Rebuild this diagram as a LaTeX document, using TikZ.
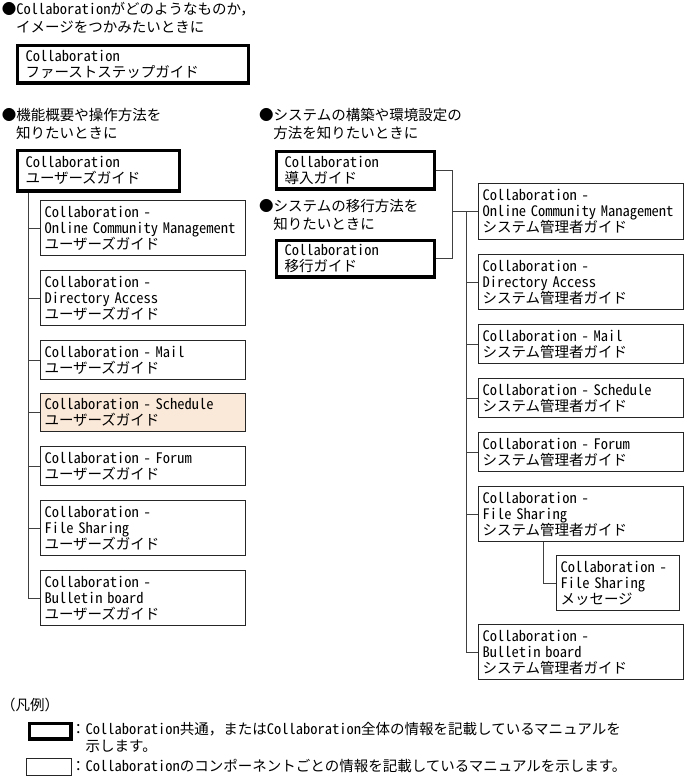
\documentclass[tikz,border=0pt]{standalone}
\usepackage{fontspec}
\setmainfont{Noto Sans CJK JP}
\newfontfamily\enf{Noto Sans CJK JP}[RawFeature=+hwid]
\newcommand\en[1]{{\enf #1}}
\definecolor{hl}{RGB}{250,232,216}
\begin{document}
\begin{tikzpicture}[x=1pt,y=-1pt,
  every node/.style={font=\fontsize{14.5}{16}\selectfont, inner sep=0pt},
  txt/.style={anchor=base west},
  thinbox/.style={draw=black!85, line width=1pt, anchor=north west, align=left, inner xsep=4pt, text width=#1},
  thinbox/.default=197pt,
  thickbox/.style={draw=black, line width=3.5pt, anchor=north west, align=left, inner xsep=8pt},
  conn/.style={draw=black!75, line width=1pt}]
\useasboundingbox (0,0) rectangle (687,784);

% headings
\node[txt] (h1a) at (1.7,15) {●\en{Collaboration}がどのようなものか，};
\node[txt] (h1b) at (16,33) {イメージをつかみたいときに};
\node[txt] (h2a) at (1.7,120) {●機能概要や操作方法を};
\node[txt] (h2b) at (16,138) {知りたいときに};
\node[txt] (h3a) at (259,120) {●システムの構築や環境設定の};
\node[txt] (h3b) at (273.2,138) {方法を知りたいときに};
\node[txt] (h4a) at (259,211) {●システムの移行方法を};
\node[txt] (h4b) at (273.2,229) {知りたいときに};

% thick boxes
\node[thickbox, text width=215pt, minimum height=37.5pt] (fsg) at (15.75,43.75) {\en{Collaboration}\\ファーストステップガイド};
\node[thickbox, text width=146pt, minimum height=40.5pt] (ug) at (15.75,148.75) {\en{Collaboration}\\ユーザーズガイド};
\node[thickbox, text width=142pt, minimum height=37.5pt] (dnyu) at (274.75,149.75) {\en{Collaboration}\\導入ガイド};
\node[thickbox, text width=142pt, minimum height=36.5pt] (iko) at (274.75,238.75) {\en{Collaboration}\\移行ガイド};

% left column
\node[thinbox, minimum height=55pt] (u1) at (40,200) {\en{Collaboration -}\\\en{Online Community Management}\\ユーザーズガイド};
\node[thinbox, minimum height=55pt] (u2) at (40,270) {\en{Collaboration -}\\\en{Directory Access}\\ユーザーズガイド};
\node[thinbox, minimum height=39pt] (u3) at (40,340) {\en{Collaboration - Mail}\\ユーザーズガイド};
\node[thinbox, minimum height=38pt, fill=hl] (u4) at (40,393) {\en{Collaboration - Schedule}\\ユーザーズガイド};
\node[thinbox, minimum height=39pt] (u5) at (40,446) {\en{Collaboration - Forum}\\ユーザーズガイド};
\node[thinbox, minimum height=55pt] (u6) at (40,500) {\en{Collaboration -}\\\en{File Sharing}\\ユーザーズガイド};
\node[thinbox, minimum height=55pt] (u7) at (40,570) {\en{Collaboration -}\\\en{Bulletin board}\\ユーザーズガイド};

% right column
\node[thinbox, minimum height=56pt] (s1) at (478,183) {\en{Collaboration -}\\\en{Online Community Management}\\システム管理者ガイド};
\node[thinbox, minimum height=55pt] (s2) at (478,254) {\en{Collaboration -}\\\en{Directory Access}\\システム管理者ガイド};
\node[thinbox, minimum height=39pt] (s3) at (478,324) {\en{Collaboration - Mail}\\システム管理者ガイド};
\node[thinbox, minimum height=39pt] (s4) at (478,378) {\en{Collaboration - Schedule}\\システム管理者ガイド};
\node[thinbox, minimum height=39pt] (s5) at (478,432) {\en{Collaboration - Forum}\\システム管理者ガイド};
\node[thinbox, minimum height=55pt] (s6) at (478,486) {\en{Collaboration -}\\\en{File Sharing}\\システム管理者ガイド};
\node[thinbox=115pt, minimum height=55pt] (msg) at (556,555) {\en{Collaboration -}\\\en{File Sharing}\\メッセージ};
\node[thinbox, minimum height=55pt] (s7) at (478,624) {\en{Collaboration -}\\\en{Bulletin board}\\システム管理者ガイド};

% connectors
\coordinate (lx) at (28,0);
\coordinate (mx) at (452,0);
\coordinate (rx) at (466,0);
\coordinate (fx) at (543,0);
\draw[conn] (lx |- ug.south) -- (lx |- u7.west);
\foreach \n in {u1,u2,u3,u4,u5,u6,u7} \draw[conn] (lx |- \n.west) -- (\n.west);
\draw[conn] (dnyu.east) -| (mx |- iko.east) -- (iko.east);
\draw[conn] (mx |- s1.west) -- (s1.west);
\draw[conn] (rx |- s1.west) -- (rx |- s7.west);
\foreach \n in {s2,s3,s4,s5,s6,s7} \draw[conn] (rx |- \n.west) -- (\n.west);
\draw[conn] (fx |- s6.south) |- (msg.west);

% legend
\node[txt] (lgt) at (1,710) {（凡例）};
\node[thickbox, minimum width=41.5pt, minimum height=15.5pt, inner sep=0pt] (lg1) at (27.75,721.75) {};
\node[thinbox=0pt, minimum width=45pt, minimum height=17pt, inner sep=0pt] (lg2) at (26,758) {};
\node[txt] (lgx1) at (71,734) {：\en{Collaboration}共通，または\en{Collaboration}全体の情報を記載しているマニュアルを};
\node[txt] (lgx2) at (85.5,751) {示します。};
\node[txt] (lgx3) at (71,771) {：\en{Collaboration}のコンポーネントごとの情報を記載しているマニュアルを示します。};
\end{tikzpicture}
\end{document}
